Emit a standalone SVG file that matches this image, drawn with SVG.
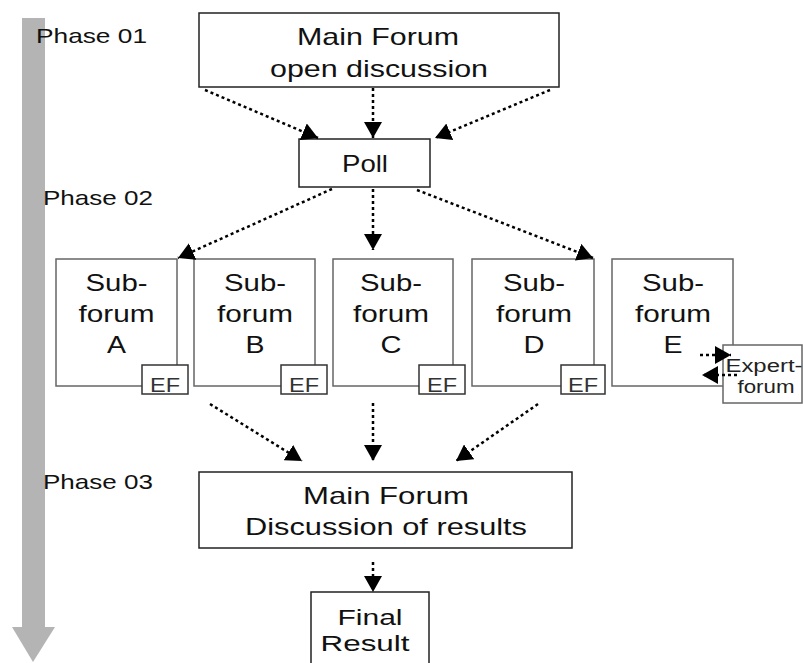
<svg xmlns="http://www.w3.org/2000/svg" width="803" height="663" viewBox="0 0 803 663">
<style>
text{font-family:"Liberation Sans",Arial,sans-serif;fill:#111;text-anchor:middle;}
.big{font-size:24px;}
.fin{font-size:22px;}
.ph{font-size:21px;text-anchor:start;}
.ef{font-size:20px;fill:#333;}
.ex{font-size:18px;fill:#222;}
.main{fill:#fff;stroke:#222;stroke-width:1.5;}
.sub{fill:#fff;stroke:#666;stroke-width:1.5;}
.efb{fill:#fff;stroke:#333;stroke-width:1.5;}
.con{fill:none;stroke:#000;stroke-width:2.5;stroke-dasharray:3 3;marker-end:url(#ah);}
</style>
<defs>
<marker id="ah" markerUnits="userSpaceOnUse" viewBox="0 0 16 18" markerWidth="16" markerHeight="18" refX="16" refY="9" orient="auto">
<path d="M0,0 L16,9 L0,18 z" fill="#000"/>
</marker>
</defs>
<rect width="803" height="663" fill="#fff"/>
<g id="timeline">
<rect x="22" y="18" width="23" height="610" fill="#b4b4b4"/>
<polygon points="12,627 55,627 33,662" fill="#b4b4b4"/>
</g>
<g id="phases">
<text class="ph" x="36" y="43" textLength="111" lengthAdjust="spacingAndGlyphs">Phase 01</text>
<text class="ph" x="43" y="205" textLength="110" lengthAdjust="spacingAndGlyphs">Phase 02</text>
<text class="ph" x="43" y="489" textLength="110" lengthAdjust="spacingAndGlyphs">Phase 03</text>
</g>
<g id="main-forum-1">
<rect class="main" x="199" y="13" width="360" height="74"/>
<text class="big" x="378" y="45" textLength="162" lengthAdjust="spacingAndGlyphs">Main Forum</text>
<text class="big" x="379" y="77" textLength="218" lengthAdjust="spacingAndGlyphs">open discussion</text>
</g>
<g id="poll">
<rect class="main" x="299" y="139" width="131" height="48"/>
<text class="big" x="365" y="172" textLength="46" lengthAdjust="spacingAndGlyphs">Poll</text>
</g>
<g id="subforum-a">
<rect class="sub" x="56" y="259" width="121" height="127"/>
<text class="big" x="116.5" y="291" textLength="62" lengthAdjust="spacingAndGlyphs">Sub-</text>
<text class="big" x="116.5" y="322" textLength="76" lengthAdjust="spacingAndGlyphs">forum</text>
<text class="big" x="116.5" y="353" textLength="19" lengthAdjust="spacingAndGlyphs">A</text>
<rect class="efb" x="142" y="365" width="46" height="29"/>
<text class="ef" x="165" y="392" textLength="30" lengthAdjust="spacingAndGlyphs">EF</text>
</g>
<g id="subforum-b">
<rect class="sub" x="194" y="259" width="121" height="127"/>
<text class="big" x="255" y="291" textLength="62" lengthAdjust="spacingAndGlyphs">Sub-</text>
<text class="big" x="255" y="322" textLength="76" lengthAdjust="spacingAndGlyphs">forum</text>
<text class="big" x="255" y="353" textLength="19" lengthAdjust="spacingAndGlyphs">B</text>
<rect class="efb" x="281" y="365" width="46" height="29"/>
<text class="ef" x="304" y="392" textLength="30" lengthAdjust="spacingAndGlyphs">EF</text>
</g>
<g id="subforum-c">
<rect class="sub" x="333" y="259" width="120" height="127"/>
<text class="big" x="391" y="291" textLength="62" lengthAdjust="spacingAndGlyphs">Sub-</text>
<text class="big" x="391" y="322" textLength="76" lengthAdjust="spacingAndGlyphs">forum</text>
<text class="big" x="391" y="353" textLength="21" lengthAdjust="spacingAndGlyphs">C</text>
<rect class="efb" x="419" y="365" width="46" height="29"/>
<text class="ef" x="442" y="392" textLength="30" lengthAdjust="spacingAndGlyphs">EF</text>
</g>
<g id="subforum-d">
<rect class="sub" x="472" y="259" width="122" height="127"/>
<text class="big" x="534" y="291" textLength="62" lengthAdjust="spacingAndGlyphs">Sub-</text>
<text class="big" x="534" y="322" textLength="76" lengthAdjust="spacingAndGlyphs">forum</text>
<text class="big" x="534" y="353" textLength="21" lengthAdjust="spacingAndGlyphs">D</text>
<rect class="efb" x="561" y="365" width="44" height="29"/>
<text class="ef" x="583" y="392" textLength="30" lengthAdjust="spacingAndGlyphs">EF</text>
</g>
<g id="subforum-e">
<rect class="sub" x="612" y="259" width="121" height="127"/>
<text class="big" x="673" y="291" textLength="62" lengthAdjust="spacingAndGlyphs">Sub-</text>
<text class="big" x="673" y="322" textLength="76" lengthAdjust="spacingAndGlyphs">forum</text>
<text class="big" x="673" y="353" textLength="19" lengthAdjust="spacingAndGlyphs">E</text>
</g>
<g id="expert-forum">
<rect class="sub" x="723" y="345" width="79" height="58"/>
<text class="ex" x="764" y="372" textLength="77" lengthAdjust="spacingAndGlyphs">Expert-</text>
<text class="ex" x="766" y="393" textLength="57" lengthAdjust="spacingAndGlyphs">forum</text>
</g>
<g id="main-forum-2">
<rect class="main" x="199" y="472" width="373" height="76"/>
<text class="big" x="386" y="504" textLength="166" lengthAdjust="spacingAndGlyphs">Main Forum</text>
<text class="big" x="386" y="535" textLength="282" lengthAdjust="spacingAndGlyphs">Discussion of results</text>
</g>
<g id="final-result">
<rect class="main" x="311" y="592" width="118" height="80"/>
<text class="fin" x="370" y="625" textLength="65" lengthAdjust="spacingAndGlyphs">Final</text>
<text class="fin" x="365" y="651" textLength="89" lengthAdjust="spacingAndGlyphs">Result</text>
</g>
<g id="connectors">
<path class="con" d="M205,90 L318,138"/>
<path class="con" d="M373,88 L373,138"/>
<path class="con" d="M550,90 L435,138"/>
<path class="con" d="M332,189 L178,258"/>
<path class="con" d="M373,189 L373,250"/>
<path class="con" d="M417,190 L593,258"/>
<path class="con" d="M210,404 L302,461"/>
<path class="con" d="M373,403 L373,461"/>
<path class="con" d="M538,404 L456,461"/>
<path class="con" d="M373,562 L373,592"/>
<path class="con" d="M700,355 L731,355"/>
<path class="con" d="M737,375 L702,375"/>
</g>
</svg>
